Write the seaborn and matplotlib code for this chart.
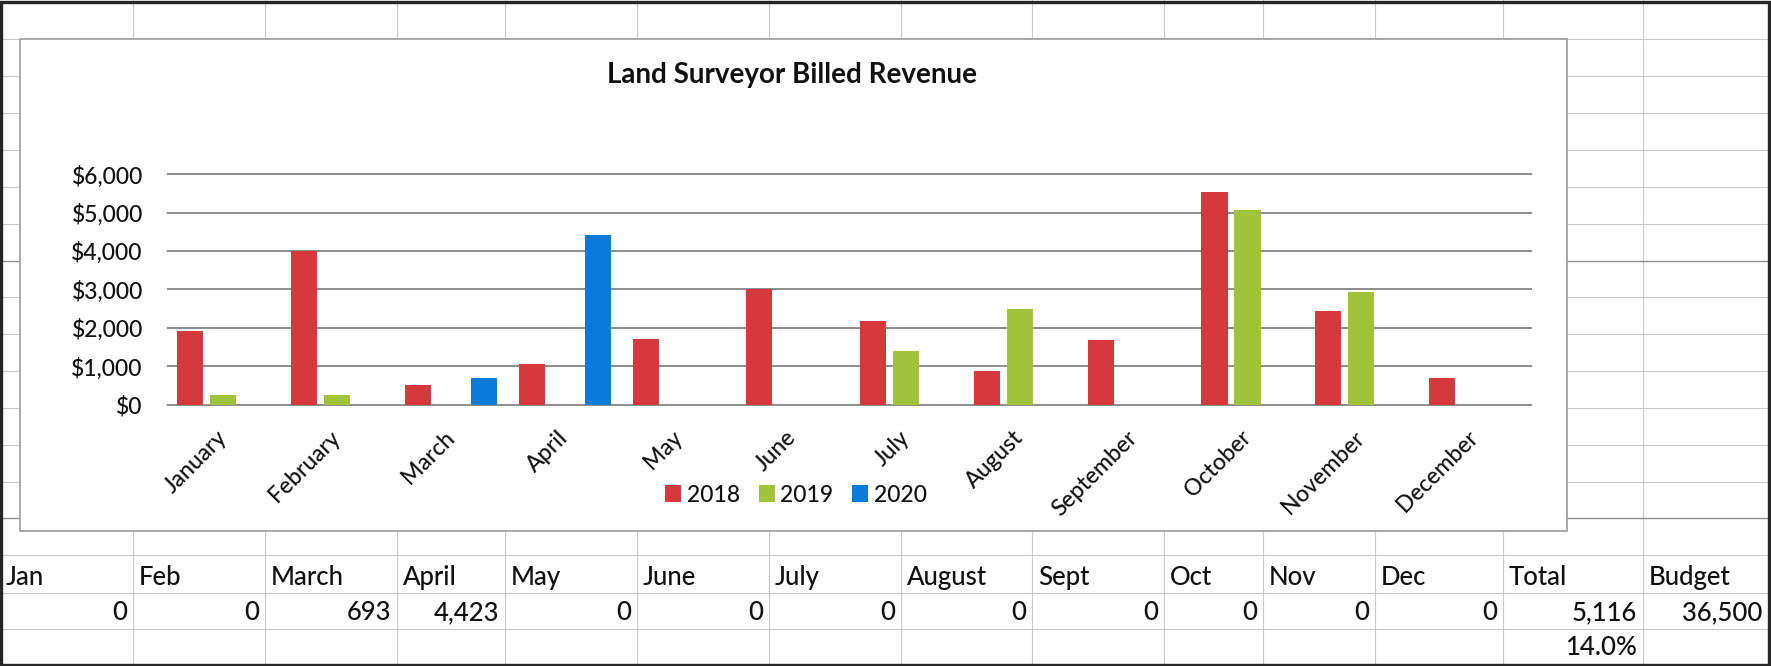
import matplotlib
matplotlib.use("Agg")
import matplotlib.pyplot as plt
from matplotlib.lines import Line2D
from matplotlib.patches import Rectangle
import pandas as pd
import seaborn as sns

# ---- data ---------------------------------------------------------------
months = ["January", "February", "March", "April", "May", "June", "July",
          "August", "September", "October", "November", "December"]
years = ["2018", "2019", "2020"]
rev_2018 = [1930, 4000, 510, 1060, 1700, 3020, 2180, 870, 1690, 5530, 2430, 700]
rev_2019 = [250, 250, 0, 0, 0, 0, 1400, 2500, 0, 5080, 2940, 0]
rev_2020 = [0, 0, 693, 4423, 0, 0, 0, 0, 0, 0, 0, 0]
budget_2020 = 36500

table_headers = ["Jan", "Feb", "March", "April", "May", "June", "July",
                 "August", "Sept", "Oct", "Nov", "Dec", "Total", "Budget"]
yticks = [0, 1000, 2000, 3000, 4000, 5000, 6000]

# ---- style --------------------------------------------------------------
sns.set_style("white")
plt.rcParams["font.family"] = ["Lato", "DejaVu Sans"]
plt.rcParams["font.weight"] = "medium"
colors = {"2018": "#d6393b", "2019": "#a1c23b", "2020": "#0b7ad8"}
TXT = "#111111"

W, H = 1771, 666
fig = plt.figure(figsize=(W / 100, H / 100), dpi=100)
fig.patch.set_facecolor("white")


def fx(x):
    return x / W


def fy(y):
    return 1 - y / H


def hline(y, x0, x1, color="#c9c9c9", lw=0.8, z=0):
    fig.add_artist(Line2D([fx(x0), fx(x1)], [fy(y), fy(y)], transform=fig.transFigure,
                          color=color, lw=lw, zorder=z))


def vline(x, y0, y1, color="#c9c9c9", lw=0.8, z=0):
    fig.add_artist(Line2D([fx(x), fx(x)], [fy(y0), fy(y1)], transform=fig.transFigure,
                          color=color, lw=lw, zorder=z))


# ---- worksheet grid behind the chart ------------------------------------
col_edges = [133, 265, 397, 505, 637, 769, 901, 1032, 1164, 1263, 1375, 1503, 1643]
row_edges = [39, 76, 113, 150, 187, 224, 261, 297, 334, 371, 408, 445, 482,
             518, 555, 593, 629]
for x in col_edges:
    vline(x, 0, H)
for y in row_edges:
    dark = y in (261, 518)
    hline(y, 0, W, color="#8f8f8f" if dark else "#c9c9c9", lw=1.0 if dark else 0.8)

# chart area frame
fig.add_artist(Rectangle((fx(20), fy(531)), fx(1567) - fx(20), fy(39) - fy(531),
                         transform=fig.transFigure, facecolor="white",
                         edgecolor="#a2a2a2", lw=1.3, zorder=1))

# outer frame of the sheet region
fig.add_artist(Rectangle((0.0008, 0.001), 0.998, 0.996, transform=fig.transFigure,
                         facecolor="none", edgecolor="#262626", lw=2.4, zorder=5))

# ---- bar chart ----------------------------------------------------------
df = pd.DataFrame({
    "month": months * 3,
    "year": [y for y in years for _ in months],
    "revenue": rev_2018 + rev_2019 + rev_2020,
})

y_lo, y_hi = -50, 6050
px_per_unit = (408.5 - 174.3) / 6000
ax_top = 174.3 - (y_hi - 6000) * px_per_unit
ax_bot = 408.5 - (0 - y_lo) * px_per_unit
ax = fig.add_axes([fx(166.5), fy(ax_bot), fx(1532) - fx(166.5), fy(ax_top) - fy(ax_bot)],
                  zorder=2)
ax.set_facecolor("none")

sns.barplot(data=df, x="month", y="revenue", hue="year", order=months,
            hue_order=years, palette=colors, saturation=1, width=0.87, gap=0.21,
            errorbar=None, linewidth=0, legend=False, ax=ax)

ax.set_xlim(-0.5, 11.5)
ax.set_ylim(y_lo, y_hi)
ax.set_yticks(yticks)
ax.set_yticklabels([f"${v:,}" for v in yticks], fontsize=16.5, color=TXT)
ax.yaxis.grid(True, color="#8c8c8c", lw=1.4)
ax.xaxis.grid(False)
ax.set_axisbelow(True)
for s in ax.spines.values():
    s.set_visible(False)
ax.tick_params(axis="y", length=0, pad=17)
ax.tick_params(axis="x", length=0, pad=20)
ax.set_xticks(range(len(months)))
ax.set_xticklabels(months, rotation=45, ha="right", va="center",
                   rotation_mode="anchor", fontsize=16.5, color=TXT)
ax.set_xlabel("")
ax.set_ylabel("")

handles = [Rectangle((0, 0), 1, 1, facecolor=colors[y], lw=0) for y in years]
fig.legend(handles, years, loc="center", bbox_to_anchor=(fx(796), fy(495)),
           ncol=3, frameon=False, fontsize=16.5, handlelength=0.7, handleheight=0.7,
           handletextpad=0.25, columnspacing=0.8, labelcolor=TXT)

fig.text(fx(792), fy(75), "Land Surveyor Billed Revenue", ha="center", va="center",
         fontsize=20, fontweight="bold", color=TXT, zorder=3)

# ---- worksheet table below the chart ------------------------------------
month_vals = rev_2020
total = sum(month_vals)
row_vals = [f"{v:,}" for v in month_vals] + [f"{total:,}", f"{budget_2020:,}"]
left_edges = [0] + col_edges
right_edges = col_edges + [1768]
for i, label in enumerate(table_headers):
    fig.text(fx(left_edges[i] + 6), fy(585), label, ha="left", va="baseline",
             fontsize=18.5, color=TXT)
    fig.text(fx(right_edges[i] - 6), fy(620), row_vals[i], ha="right", va="baseline",
             fontsize=18.5, color=TXT)
fig.text(fx(right_edges[12] - 6), fy(655), f"{total / budget_2020:.1%}", ha="right",
         va="baseline", fontsize=18.5, color=TXT)

fig.savefig("out.png", dpi=100, facecolor="white")
